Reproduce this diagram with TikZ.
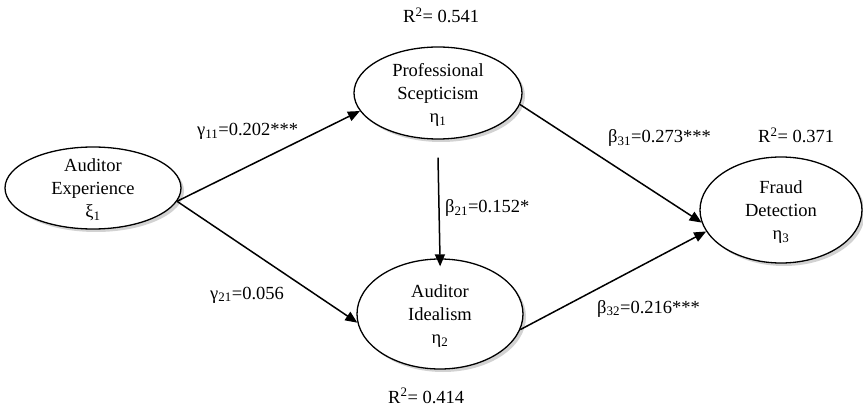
\documentclass[tikz,border=0pt]{standalone}
\usepackage{fontspec}
\setmainfont{Liberation Serif}
\usetikzlibrary{shapes.geometric,arrows.meta,shadows}
\begin{document}
\begin{tikzpicture}[x=1pt,y=-1pt,
  latent/.style={ellipse, draw, line width=1.3pt, fill=white, inner sep=0pt,
    drop shadow={shadow xshift=3pt,shadow yshift=-3pt,fill=black!35}},
  ntext/.style={align=center, font=\fontsize{18.5}{23}\selectfont, inner sep=0pt},
  lbl/.style={anchor=base west, font=\fontsize{18.5}{23}\selectfont, inner sep=0pt},
  arr/.style={-{Triangle[length=12pt,width=10pt]}, line width=1.5pt}]
\useasboundingbox (0,0) rectangle (863,409);
% latent variables
\node[latent, minimum width=176pt, minimum height=82pt] (ae) at (93,188) {};
\node[latent, minimum width=168pt, minimum height=92pt] (pe) at (438,93) {};
\node[latent, minimum width=166pt, minimum height=110pt] (ai) at (440,314) {};
\node[latent, minimum width=162pt, minimum height=106pt] (fd) at (781,210) {};
% texts
\node[ntext] (aet) at (93,190) {Auditor\\Experience\\ξ\textsubscript{1}};
\node[ntext] (pet) at (438,95) {Professional\\Scepticism\\η\textsubscript{1}};
\node[ntext] (ait) at (440,316) {Auditor\\Idealism\\η\textsubscript{2}};
\node[ntext] (fdt) at (781,212) {Fraud\\Detection\\η\textsubscript{3}};
% paths
\draw[arr] (ae.-9) -- (pe.193);
\draw[arr] (ae.-9) -- (ai.186);
\draw[arr] (pe.-8) -- (fd.189);
\draw[arr] (ai.-11) -- (fd.196);
\draw[arr, shorten >=-8pt] ([yshift=-18pt]pe.south) -- (ai.north);
% coefficients
\node[lbl] (g11) at (197,136) {γ\textsubscript{11}=0.202***};
\node[lbl] (g21) at (210,299) {γ\textsubscript{21}=0.056};
\node[lbl] (b21) at (445,213) {β\textsubscript{21}=0.152*};
\node[lbl] (b31) at (608,143) {β\textsubscript{31}=0.273***};
\node[lbl] (b32) at (597,313) {β\textsubscript{32}=0.216***};
% R squared
\node[lbl] (r1) at (403,23) {R\textsuperscript{2}= 0.541};
\node[lbl] (r2) at (388,403) {R\textsuperscript{2}= 0.414};
\node[lbl] (r3) at (758,143) {R\textsuperscript{2}= 0.371};
\end{tikzpicture}
\end{document}
